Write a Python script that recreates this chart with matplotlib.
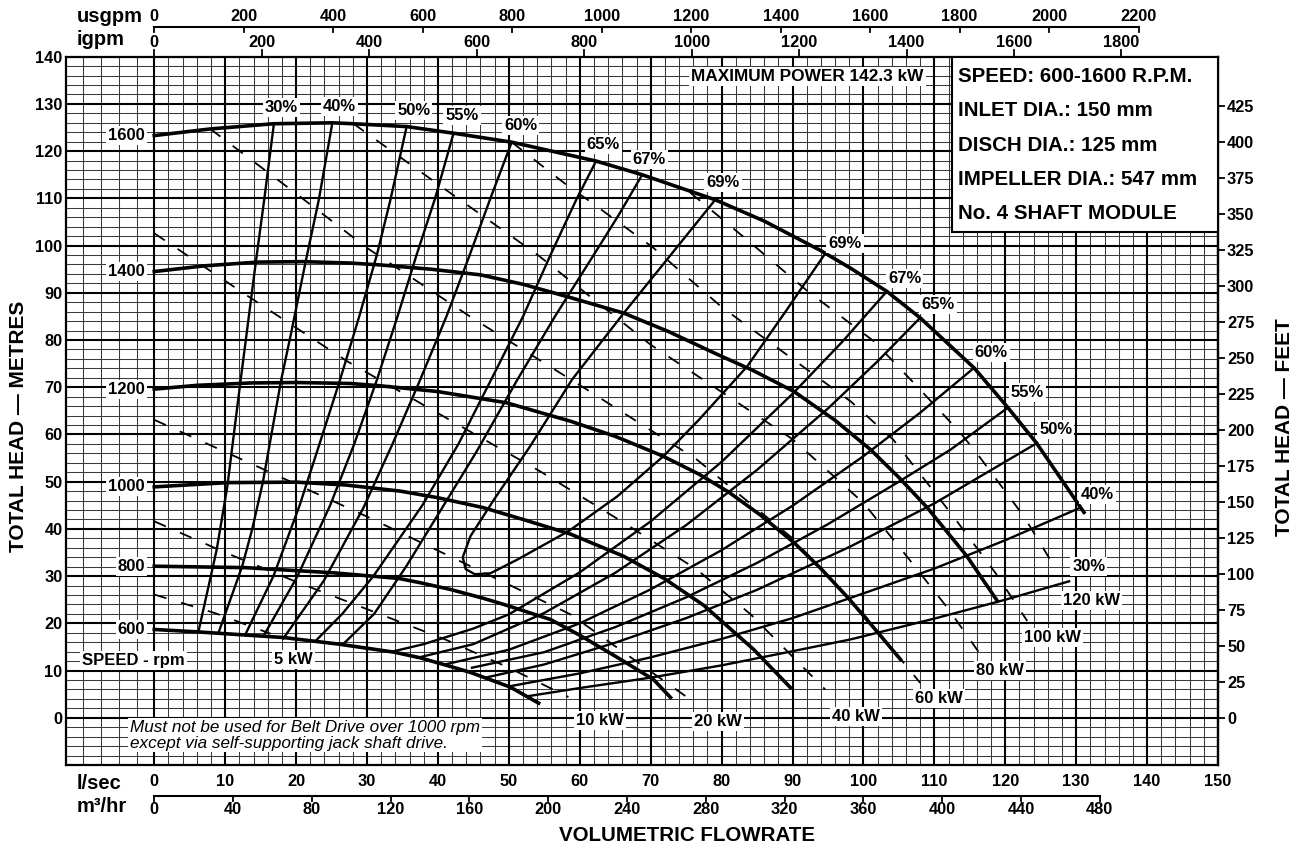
import matplotlib
matplotlib.use('Agg')
import matplotlib.pyplot as plt
from matplotlib.patches import Rectangle

plt.rcParams['font.family'] = ['Liberation Sans', 'DejaVu Sans']

# ---------------- data ----------------
# speed curves: flow l/s, head m
rpm1600_q = [0, 7.9, 16.8, 25.1, 28.1, 35.6, 42.2, 50.4, 62.3, 68.8, 79.1, 86, 93.9, 98.2, 103.3, 108.0, 115.6, 120.2, 124.4, 131.1]
rpm1600_h = [123.3, 124.7, 125.8, 126.0, 125.8, 125.2, 123.8, 121.9, 117.9, 115.0, 109.7, 105.2, 99.0, 95.2, 90.3, 84.7, 74.1, 66.0, 58.2, 43.5]
rpm1400_q = [0, 7, 14.5, 21, 27.6, 31.9, 39, 46.0, 52, 58.2, 66.2, 72.5, 78.9, 84.5, 90.2, 96, 101, 105, 109, 114.6, 118.9]
rpm1400_h = [94.5, 95.7, 96.5, 96.6, 96.3, 95.9, 95.0, 93.8, 91.8, 89.2, 85.7, 81.8, 77.3, 73.5, 69.1, 63.0, 56.8, 50.9, 44.5, 34.2, 24.7]
rpm1200_q = [0, 6, 13.5, 20, 27.6, 31.9, 39.9, 49.7, 58.7, 65, 71.6, 76.8, 81, 85.5, 90.2, 94, 97.9, 101.5, 105.2]
rpm1200_h = [69.6, 70.4, 70.9, 71.0, 70.8, 70.3, 69.1, 66.7, 62.8, 59.6, 55.5, 51.6, 47.8, 42.9, 37.1, 31.6, 25.3, 19.0, 12.4]
rpm1000_q = [0, 10.3, 20, 27, 34.7, 40, 46.4, 52, 58.7, 66.2, 72, 77.5, 84.5, 89.7]
rpm1000_h = [48.9, 49.8, 49.9, 49.3, 48.0, 46.6, 44.5, 42.0, 38.9, 34.2, 29.4, 23.8, 14.5, 6.4]
rpm800_q = [0, 12.8, 25.3, 34.5, 37.5, 41.7, 46.4, 49.3, 55.9, 60.1, 65.5, 70.4, 72.8]
rpm800_h = [32.1, 31.8, 30.7, 29.5, 28.6, 27.2, 25.3, 24.0, 20.8, 17.4, 12.6, 8.1, 4.3]
rpm600_q = [0, 6.0, 18.2, 26, 33.8, 37.5, 41.7, 44.6, 50.2, 54.2]
rpm600_h = [18.7, 18.2, 17.0, 15.6, 13.9, 12.7, 10.9, 9.6, 6.5, 3.1]
speed_labels = ['1600', '1400', '1200', '1000', '800', '600']

# efficiency curves, left (rising) branches
eff30L_q = [6.25, 8.8, 10.3, 12.1, 14.3, 15.5, 16.85]
eff30L_h = [18.4, 35.6, 49.0, 70.6, 96.3, 109.7, 125.6]
eff40L_q = [9.1, 12.4, 13.8, 15.3, 17.9, 19.3, 21.3, 23.2, 25.1]
eff40L_h = [18.2, 32.1, 39.9, 49.8, 71.6, 81.5, 96.3, 109.7, 125.9]
eff50L_q = [12.8, 16.8, 20.5, 23.3, 26.2, 28.9, 31.4, 33.3, 35.6]
eff50L_h = [17.5, 30, 45, 58, 71.6, 85, 98.1, 109.7, 125.3]
eff55L_q = [15.4, 20.2, 24.8, 28.2, 31.4, 34.3, 37.0, 39.6, 42.2]
eff55L_h = [17.3, 30, 45, 58, 71.6, 85, 98.1, 110, 123.8]
eff60L_q = [18.2, 23.9, 29.5, 33.6, 37.5, 41.2, 44.5, 47.4, 50.4]
eff60L_h = [16.8, 29, 44.5, 58, 71.6, 85, 98.1, 110, 121.9]
eff65L_q = [22.7, 26.5, 30.9, 37.8, 42.9, 47.5, 52.0, 55.9, 59.5, 62.3]
eff65L_h = [16.2, 22, 30, 45, 58, 71.6, 85, 98.1, 109.7, 117.9]
eff67L_q = [26.7, 31, 35.5, 40, 45.5, 51.2, 56.5, 62.0, 65.5, 68.8]
eff67L_h = [15.7, 22, 32, 43, 56.5, 71.6, 85, 98.1, 106.5, 115.0]
# 69 % closed loop (left branch down, right branch up)
eff69_q = [79.1, 72.6, 66.2, 58.9, 53.0, 47.9, 44.6, 43.5, 43.9, 45.2, 47.4, 51.2, 58.5, 65.3, 71.8, 76.8, 83.6, 89.1, 94.6]
eff69_h = [109.7, 97.6, 85.7, 71.6, 57.5, 46.2, 38.5, 34.0, 31.5, 30.4, 30.6, 33.5, 39.6, 46.9, 55.4, 63.1, 74.4, 86.2, 98.3]
# efficiency curves, right (falling) branches
eff67R_q = [33.8, 38, 45, 50, 60, 70, 80, 90, 97, 103.3]
eff67R_h = [14.1, 15.6, 18.9, 21.9, 30.8, 41.6, 54.2, 68.6, 79.6, 90.3]
eff65R_q = [37.1, 45, 55, 65, 75, 85, 95, 102, 108.0]
eff65R_h = [12.7, 15.6, 22.2, 30.7, 40.8, 52.5, 65.5, 75.5, 84.7]
eff60R_q = [41.0, 50, 60, 70, 80, 90, 100, 108, 115.6]
eff60R_h = [11.3, 14.4, 20.0, 27.2, 35.5, 44.9, 55.4, 64.6, 74.1]
eff55R_q = [44.8, 55, 65, 75, 85, 95, 105, 112.3, 120.3]
eff55R_h = [10.6, 13.9, 19.2, 25.5, 32.8, 41.0, 50.0, 56.8, 65.6]
eff50R_q = [46.7, 55, 65, 75, 85, 98.2, 110, 124.5]
eff50R_h = [8.5, 11.3, 15.9, 21.1, 27.1, 36.3, 45.4, 58.2]
eff40R_q = [50.2, 60, 70, 80, 90, 98.2, 110, 120, 130.6]
eff40R_h = [6.7, 9.4, 12.8, 16.7, 21.1, 25.4, 31.6, 37.6, 44.5]
eff30R_q = [52.8, 60, 70, 80, 90, 98.2, 110, 120, 129.0]
eff30R_h = [4.6, 6.3, 8.5, 11.1, 14.1, 16.6, 21.0, 25.0, 28.9]

# power curves (dashed), kW
kw5_q = [0, 8.5, 16.4]
kw5_h = [26.1, 22.2, 17.8]
kw10_q = [0, 10, 20, 30, 41, 50, 58.4]
kw10_h = [41.6, 35.0, 28.8, 23.0, 16.6, 10.6, 4.4]
kw20_q = [0, 15, 30, 45, 58.7, 67, 76.5]
kw20_h = [63.1, 52.9, 42.6, 31.8, 21.9, 13.0, 2.9]
kw40_q = [0, 13.5, 27.2, 40, 54.4, 66, 76.5, 84.1, 94.6]
kw40_h = [102.6, 89.0, 75.5, 64.5, 52.2, 41.5, 31.4, 21.9, 6.0]
kw60_q = [7.9, 20, 30, 45, 61, 76.5, 90, 100, 108]
kw60_h = [124.7, 111.0, 99.5, 84.5, 69.5, 54.7, 38.0, 22.0, 7.4]
kw80_q = [28.1, 40, 54, 70, 80, 90, 100, 105.9, 112, 116.5]
kw80_h = [125.8, 113, 98.1, 79, 69, 59, 45.5, 34.6, 23.0, 13.4]
kw100_q = [50.4, 58.7, 61.5, 70.4, 80, 90, 98.2, 104.2, 112.5, 118.6, 123.1]
kw100_h = [121.9, 112.2, 109.3, 99.5, 87.0, 76.0, 67.0, 58.9, 43.0, 30.7, 20.5]
kw120_q = [75.6, 83.6, 92, 101.5, 107.3, 113.7, 116.5, 122.6, 126.9]
kw120_h = [111.2, 101.2, 90.5, 79.7, 70.6, 60.3, 55.0, 42.7, 32.1]

# axis ticks
lsec_ticks = list(range(0, 151, 10))
m3hr_ticks = list(range(0, 481, 40))
usgpm_ticks = list(range(0, 2201, 200))
igpm_ticks = list(range(0, 1801, 200))
metre_ticks = list(range(0, 141, 10))
feet_ticks = list(range(0, 426, 25))

info_lines = ['SPEED: 600-1600 R.P.M.', 'INLET DIA.: 150 mm', 'DISCH DIA.: 125 mm',
              'IMPELLER DIA.: 547 mm', 'No. 4 SHAFT MODULE']

# ---------------- figure ----------------
fig = plt.figure(figsize=(12.98, 8.49), dpi=100)
ax = fig.add_axes([66 / 1298, 1 - 765 / 849, (1218 - 66) / 1298, (765 - 56.7) / 849])
XMIN, XMAX, YMIN, YMAX = -12.45, 150, -10, 140
ax.set_xlim(XMIN, XMAX)
ax.set_ylim(YMIN, YMAX)

# grid
minor_c = '#3a3a3a'
for x in range(0, 151, 2):
    if x % 10:
        ax.axvline(x, color=minor_c, lw=0.75, zorder=1)
for x in [-10, -7.5, -5, -2.5]:
    ax.axvline(x, color=minor_c, lw=0.75, zorder=1)
for x in range(0, 141, 10):
    ax.axvline(x, color='black', lw=1.5, zorder=1.2)
for y in range(-10, 141, 2):
    if y % 10:
        ax.axhline(y, color=minor_c, lw=0.75, zorder=1)
for y in range(0, 131, 10):
    ax.axhline(y, color='black', lw=1.5, zorder=1.2)
for s in ax.spines.values():
    s.set_linewidth(1.6)

# power curves (dashed)
for q, h in [(kw5_q, kw5_h), (kw10_q, kw10_h), (kw20_q, kw20_h), (kw40_q, kw40_h),
             (kw60_q, kw60_h), (kw80_q, kw80_h), (kw100_q, kw100_h), (kw120_q, kw120_h)]:
    ax.plot(q, h, color='black', lw=1.3, dashes=(7.0, 8.5), zorder=3,
            solid_capstyle='butt', dash_capstyle='butt')

# efficiency curves
for q, h in [(eff30L_q, eff30L_h), (eff40L_q, eff40L_h), (eff50L_q, eff50L_h),
             (eff55L_q, eff55L_h), (eff60L_q, eff60L_h), (eff65L_q, eff65L_h),
             (eff67L_q, eff67L_h), (eff69_q, eff69_h),
             (eff67R_q, eff67R_h), (eff65R_q, eff65R_h), (eff60R_q, eff60R_h),
             (eff55R_q, eff55R_h), (eff50R_q, eff50R_h), (eff40R_q, eff40R_h),
             (eff30R_q, eff30R_h)]:
    ax.plot(q, h, color='black', lw=1.7, zorder=3.5, solid_joinstyle='round')

# speed curves
speed_curves = [(rpm1600_q, rpm1600_h), (rpm1400_q, rpm1400_h), (rpm1200_q, rpm1200_h),
                (rpm1000_q, rpm1000_h), (rpm800_q, rpm800_h), (rpm600_q, rpm600_h)]
for q, h in speed_curves:
    ax.plot(q, h, color='black', lw=2.6, zorder=4, solid_joinstyle='round')

bbox = dict(boxstyle='square,pad=0.12', fc='white', ec='none')


def lab(x, y, s, size=12, ha='center'):
    ax.text(x, y, s, ha=ha, va='center', fontsize=size, fontweight='bold',
            zorder=6, bbox=bbox)


for (q, h), s in zip(speed_curves, speed_labels):
    lab(-1.3, h[0], s, ha='right')
lab(-2.9, 12.2, 'SPEED - rpm')

# efficiency labels
for x, y, s in [(17.9, 129.3, '30%'), (26.1, 129.4, '40%'), (36.6, 128.7, '50%'),
                (43.4, 127.5, '55%'), (51.7, 125.5, '60%'), (63.3, 121.4, '65%'),
                (69.8, 118.3, '67%'), (80.2, 113.3, '69%'), (97.4, 100.5, '69%'),
                (105.8, 93.0, '67%'), (110.5, 87.6, '65%'), (118.0, 77.4, '60%'),
                (123.1, 68.8, '55%'), (127.1, 61.1, '50%'), (133.0, 47.2, '40%'),
                (131.8, 32.0, '30%')]:
    lab(x, y, s)

# power labels
for x, y, s in [(19.6, 12.4, '5 kW'), (62.9, -0.5, '10 kW'), (79.5, -0.7, '20 kW'),
                (99.0, 0.2, '40 kW'), (110.7, 4.1, '60 kW'), (119.3, 10.0, '80 kW'),
                (126.6, 17.0, '100 kW'), (132.1, 24.8, '120 kW')]:
    lab(x, y, s)

lab(92.1, 135.8, 'MAXIMUM POWER 142.3 kW', size=12.4)

# info box
ax.add_patch(Rectangle((112.5, 102.8), 150 - 112.5, 140 - 102.8, fc='white',
                       ec='black', lw=1.5, zorder=7))
for y, s in zip([135.8, 128.6, 121.2, 113.9, 106.8], info_lines):
    ax.text(113.3, y, s, ha='left', va='center', fontsize=14.8, fontweight='bold', zorder=8)

# note
ax.text(-3.4, -3.7, 'Must not be used for Belt Drive over 1000 rpm\nexcept via self-supporting jack shaft drive.',
        ha='left', va='center', fontsize=12.3, fontstyle='italic', linespacing=1.05, zorder=6,
        bbox=dict(boxstyle='square,pad=0.1', fc='white', ec='none'))

# left metre axis
ax.set_yticks(metre_ticks)
ax.set_yticklabels([str(v) for v in metre_ticks], fontsize=11.8, fontweight='bold')
ax.tick_params(axis='y', length=0, pad=2.5)
ax.set_xticks([])

# right feet axis
sec = ax.secondary_yaxis('right', functions=(lambda m: m / 0.3048, lambda f: f * 0.3048))
sec.set_yticks(feet_ticks)
sec.set_yticklabels([str(v) for v in feet_ticks], fontsize=11.8, fontweight='bold')
sec.tick_params(axis='y', length=5, width=1.3, direction='out', pad=1.5)
sec.spines['right'].set_linewidth(1.6)

xt = ax.get_xaxis_transform()
# bottom l/sec labels
for v in lsec_ticks:
    ax.text(v, -0.0236, str(v), transform=xt, ha='center', va='center',
            fontsize=11.8, fontweight='bold', clip_on=False)
# m3/hr scale
M3 = 3.6
ax.plot([0, m3hr_ticks[-1] / M3], [-0.0433, -0.0433], transform=xt, color='black',
        lw=1.5, clip_on=False)
for v in m3hr_ticks:
    ax.plot([v / M3, v / M3], [-0.0433, -0.0510], transform=xt, color='black', lw=1.3, clip_on=False)
    ax.text(v / M3, -0.0635, str(v), transform=xt, ha='center', va='center',
            fontsize=11.8, fontweight='bold', clip_on=False)
# igpm (top spine ticks)
IG = 13.198
for v in igpm_ticks:
    ax.plot([v / IG, v / IG], [1.0, 1.0095], transform=xt, color='black', lw=1.3, clip_on=False)
    ax.text(v / IG, 1.0198, str(v), transform=xt, ha='center', va='center',
            fontsize=11.8, fontweight='bold', clip_on=False)
# usgpm scale
US = 15.850
ax.plot([0, usgpm_ticks[-1] / US], [1.0424, 1.0424], transform=xt, color='black',
        lw=1.5, clip_on=False)
for v in usgpm_ticks:
    ax.plot([v / US, v / US], [1.0424, 1.0344], transform=xt, color='black', lw=1.3, clip_on=False)
    ax.text(v / US, 1.0565, str(v), transform=xt, ha='center', va='center',
            fontsize=11.8, fontweight='bold', clip_on=False)

# axis titles
fig.text(77 / 1298, 1 - 16 / 849, 'usgpm', ha='left', va='center', fontsize=14.5, fontweight='bold')
fig.text(77 / 1298, 1 - 39.3 / 849, 'igpm', ha='left', va='center', fontsize=14.5, fontweight='bold')
fig.text(77 / 1298, 1 - 783.3 / 849, 'l/sec', ha='left', va='center', fontsize=14.5, fontweight='bold')
fig.text(77 / 1298, 1 - 806.7 / 849, 'm³/hr', ha='left', va='center', fontsize=14.5, fontweight='bold')
fig.text(686.7 / 1298, 1 - 835.7 / 849, 'VOLUMETRIC FLOWRATE', ha='center', va='center',
         fontsize=14.8, fontweight='bold')
fig.text(18.3 / 1298, 1 - 426.7 / 849, 'TOTAL HEAD — METRES', ha='center', va='center',
         rotation=90, fontsize=15, fontweight='bold')
fig.text(1284 / 1298, 1 - 426.7 / 849, 'TOTAL HEAD — FEET', ha='center', va='center',
         rotation=90, fontsize=15, fontweight='bold')

fig.savefig('out.png', dpi=100, facecolor='white')
